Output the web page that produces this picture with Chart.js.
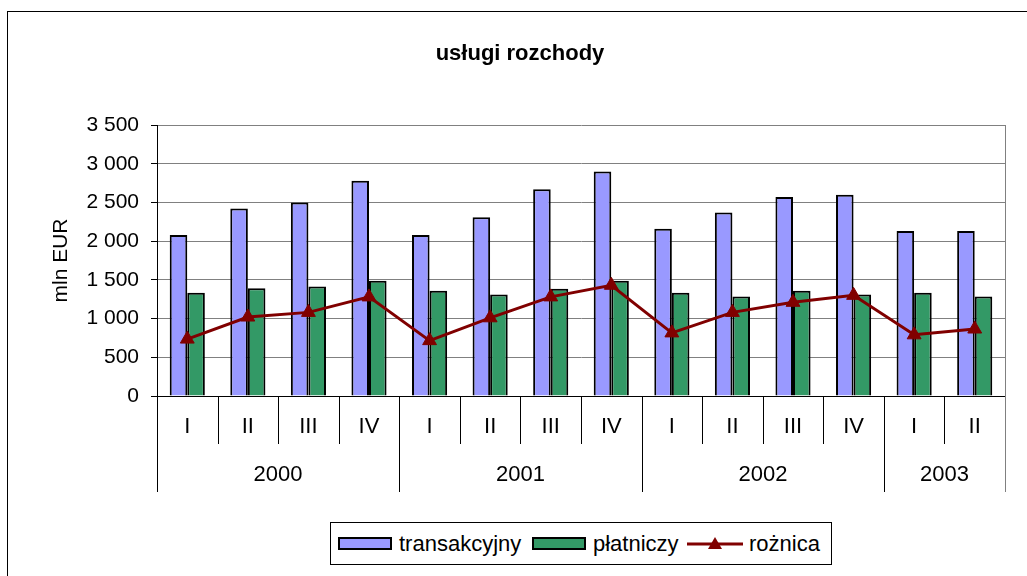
<!DOCTYPE html>
<html>
<head>
<meta charset="utf-8">
<script src="https://cdn.jsdelivr.net/npm/chart.js@4"></script>
<style>
  html, body { margin: 0; padding: 0; background: #fff; overflow: hidden; }
  #wrap { position: relative; width: 1027px; height: 576px; overflow: hidden; }
  #frame { position: absolute; left: 7px; top: 11px; width: 1100px; height: 700px; border: 1px solid #000; }
  #chart { position: absolute; left: 0; top: 0; }
  #legend {
    position: absolute; left: 330px; top: 522px; width: 500px; height: 41px;
    border: 1px solid #000; background: #fff;
    font: 22px "Liberation Sans", Arial, sans-serif; color: #000;
  }
  #legend .item { position: absolute; top: 0; height: 41px; display: flex; align-items: center; }
  #legend .sw { width: 50px; height: 9px; border: 2px solid #000; margin-right: 7px; }
  #legend svg { margin-right: 6px; }
</style>
</head>
<body>
<div id="wrap">
  <div id="frame"></div>
  <canvas id="chart" width="1040" height="576"></canvas>
  <div id="legend"></div>
</div>
<script>
// data
const quarters = ['I', 'II', 'III', 'IV', 'I', 'II', 'III', 'IV', 'I', 'II', 'III', 'IV', 'I', 'II'];
const years = ['2000', '2001', '2002', '2003'];
const yearSpans = [4, 4, 4, 2];
const transakcyjny = [2080, 2420, 2500, 2780, 2080, 2310, 2670, 2900, 2160, 2370, 2570, 2600, 2130, 2130];
const platniczy = [1335, 1390, 1415, 1490, 1360, 1310, 1385, 1490, 1335, 1285, 1360, 1310, 1335, 1285];
const roznica = [735, 1020, 1080, 1280, 715, 1010, 1280, 1430, 815, 1080, 1210, 1300, 790, 865];
const yTicks = [0, 500, 1000, 1500, 2000, 2500, 3000, 3500];

const FONT = '"Liberation Sans", Arial, sans-serif';
const fmt = v => String(v).replace(/\B(?=(\d{3})+(?!\d))/g, ' ');

// two-level category axis under the plot
const groupAxis = {
  id: 'groupAxis',
  afterDraw(chart) {
    const { ctx, chartArea: a, scales: { x } } = chart;
    const n = quarters.length;
    const edge = i => {
      if (i <= 0) return a.left;
      if (i >= n) return a.right;
      return Math.round((x.getPixelForValue(i - 1) + x.getPixelForValue(i)) / 2);
    };
    const qBottom = a.bottom + 48, yBottom = a.bottom + 96;
    ctx.save();
    ctx.lineWidth = 1;
    const starts = [0];
    yearSpans.forEach((s, i) => starts.push(starts[i] + s));
    for (let i = 0; i <= n; i++) {
      const px = Math.round(edge(i)) + 0.5;
      const long = starts.includes(i);
      ctx.strokeStyle = i === n ? '#808080' : '#000';
      ctx.beginPath();
      ctx.moveTo(px, a.bottom);
      ctx.lineTo(px, long ? yBottom : qBottom);
      ctx.stroke();
    }
    // plot area right border
    ctx.strokeStyle = '#808080';
    ctx.beginPath();
    ctx.moveTo(Math.round(a.right) + 0.5, a.top);
    ctx.lineTo(Math.round(a.right) + 0.5, a.bottom);
    ctx.stroke();

    ctx.fillStyle = '#000';
    ctx.font = '22px ' + FONT;
    ctx.textAlign = 'center';
    ctx.textBaseline = 'middle';
    quarters.forEach((q, i) => ctx.fillText(q, x.getPixelForValue(i), a.bottom + 31));
    years.forEach((y, i) => {
      const cx = (edge(starts[i]) + edge(starts[i + 1])) / 2;
      ctx.fillText(y, cx, a.bottom + 79);
    });
    ctx.restore();
  }
};

new Chart(document.getElementById('chart'), {
  data: {
    labels: quarters.map((q, i) => i),
    datasets: [
      {
        type: 'line', label: 'rożnica', data: roznica, order: 0,
        borderColor: '#800000', backgroundColor: '#800000', borderWidth: 3,
        pointStyle: 'triangle', pointRadius: 8, pointBackgroundColor: '#800000',
        pointBorderColor: '#800000', pointBorderWidth: 1, tension: 0
      },
      {
        type: 'bar', label: 'transakcyjny', data: transakcyjny, order: 1,
        backgroundColor: '#9999ff', borderColor: '#000', borderWidth: 2,
        categoryPercentage: 0.58, barPercentage: 1
      },
      {
        type: 'bar', label: 'płatniczy', data: platniczy, order: 1,
        backgroundColor: '#339966', borderColor: '#000', borderWidth: 2,
        categoryPercentage: 0.58, barPercentage: 1
      }
    ]
  },
  options: {
    responsive: false,
    animation: false,
    layout: { padding: { left: 35, right: 35, top: 0, bottom: 180 } },
    plugins: {
      legend: { display: false },
      tooltip: { enabled: false },
      title: {
        display: true, text: 'usługi rozchody', color: '#000',
        font: { family: FONT, size: 22, weight: 'bold' },
        padding: { top: 41, bottom: 57.6 }
      }
    },
    scales: {
      x: {
        type: 'category',
        grid: { display: false },
        ticks: { display: false },
        border: { display: true, color: '#000', width: 1 },
        afterFit(s) { s.height = 0; }
      },
      y: {
        min: 0, max: 3500,
        afterBuildTicks(s) { s.ticks = yTicks.map(v => ({ value: v })); },
        afterFit(s) { s.width = 122; },
        ticks: {
          color: '#000', padding: 12,
          font: { family: FONT, size: 21 },
          callback: v => fmt(v)
        },
        grid: { color: '#808080', lineWidth: 1, tickLength: 6, tickColor: '#000' },
        border: { display: true, color: '#000', width: 1 },
        title: {
          display: true, text: 'mln EUR', color: '#000',
          font: { family: FONT, size: 21 },
          padding: { top: 14, bottom: 0 }
        }
      }
    }
  },
  plugins: [groupAxis]
});

// legend box under the chart
const legendItems = [
  { label: 'transakcyjny', color: '#9999ff', kind: 'box', left: 7 },
  { label: 'płatniczy', color: '#339966', kind: 'box', left: 201 },
  { label: 'rożnica', color: '#800000', kind: 'line', left: 356 }
];
const legend = document.getElementById('legend');
legendItems.forEach(it => {
  const el = document.createElement('div');
  el.className = 'item';
  el.style.left = it.left + 'px';
  if (it.kind === 'box') {
    const sw = document.createElement('span');
    sw.className = 'sw';
    sw.style.background = it.color;
    el.appendChild(sw);
  } else {
    el.insertAdjacentHTML('beforeend',
      '<svg width="56" height="20" viewBox="0 0 56 20">' +
      '<line x1="0" y1="10" x2="56" y2="10" stroke="' + it.color + '" stroke-width="3"/>' +
      '<polygon points="28,3 35,15 21,15" fill="' + it.color + '"/></svg>');
  }
  const t = document.createElement('span');
  t.textContent = it.label;
  el.appendChild(t);
  legend.appendChild(el);
});
</script>
</body>
</html>
